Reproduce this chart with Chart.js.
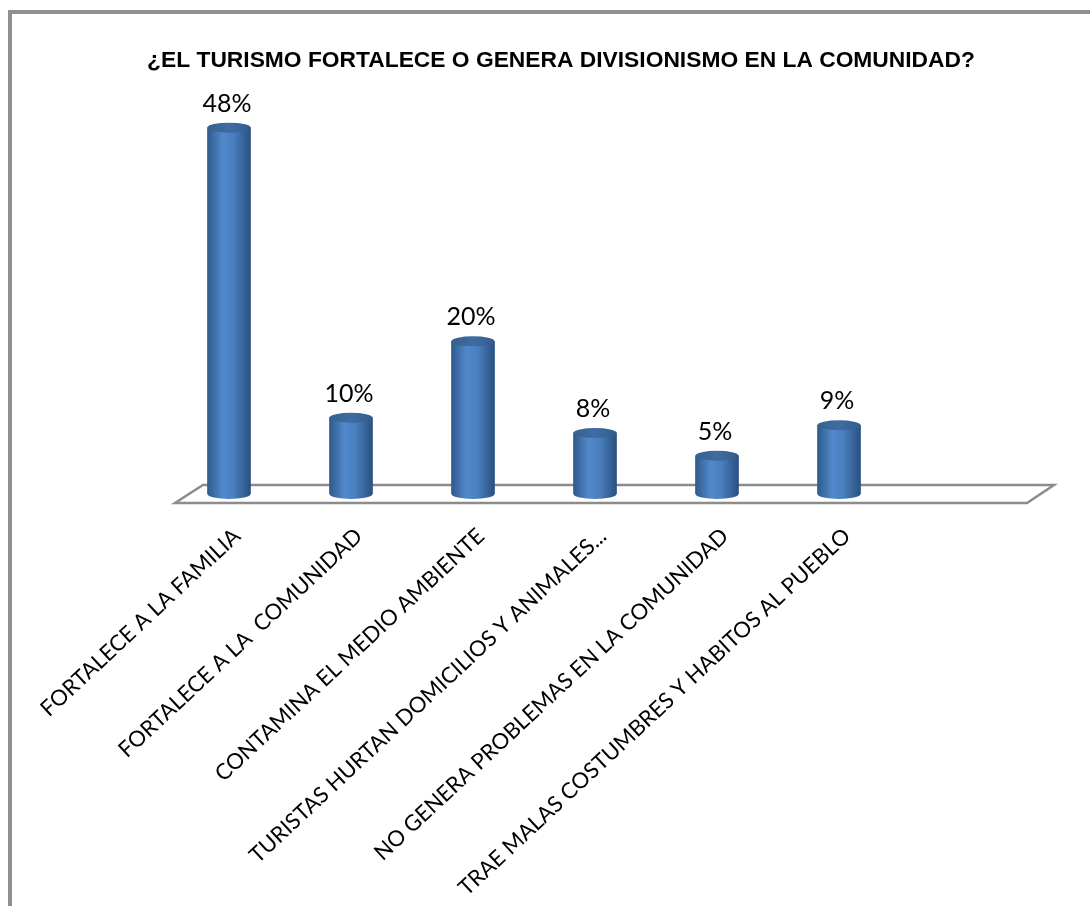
<!DOCTYPE html>
<html>
<head>
  <meta charset="UTF-8">
  <title>¿El turismo fortalece o genera divisionismo?</title>
  <style>
    body {
      margin: 0;
      background-color: #fff;
      overflow: hidden;
    }

    /* marco gris del gráfico (solo izquierda y arriba se ven) */
    .marco {
      position: absolute;
      left: 8px;
      top: 10px;
      width: 1200px;
      height: 1000px;
      border-left: 4px solid #8f8f8f;
      border-top: 4px solid #8f8f8f;
    }

    .contenedor {
      position: absolute;
      left: 0;
      top: 0;
      width: 1090px;
      height: 906px;
    }
  </style>
</head>
<body>
  <div class="marco"></div>
  <div class="contenedor">
    <canvas id="grafica"></canvas>
  </div>

  <script src="https://cdn.jsdelivr.net/npm/chart.js"></script>
  <script>
    var titulo = '¿EL TURISMO FORTALECE O GENERA DIVISIONISMO EN LA COMUNIDAD?';

    var categorias = [
      'FORTALECE A LA FAMILIA',
      'FORTALECE A LA  COMUNIDAD',
      'CONTAMINA EL MEDIO AMBIENTE',
      'TURISTAS HURTAN DOMICILIOS Y ANIMALES...',
      'NO GENERA PROBLEMAS EN LA COMUNIDAD',
      'TRAE MALAS COSTUMBRES Y HABITOS AL PUEBLO'
    ];

    var porcentajes = [48, 10, 20, 8, 5, 9];

    // degradado horizontal para simular el cilindro
    function degradado(ctx, x, w) {
      var g = ctx.createLinearGradient(x - w / 2, 0, x + w / 2, 0);
      g.addColorStop(0, '#2f5a8c');
      g.addColorStop(0.35, '#5289cc');
      g.addColorStop(0.6, '#4a7fbf');
      g.addColorStop(1, '#2a5080');
      return g;
    }

    // piso en perspectiva
    var piso = {
      id: 'piso',
      beforeDatasetsDraw: function (chart) {
        var ctx = chart.ctx;
        var x = chart.scales.x;
        var y = chart.scales.y;
        var x0 = x.getPixelForValue(0);
        var x5 = x.getPixelForValue(categorias.length - 1);
        var base = y.getPixelForValue(0);
        ctx.save();
        ctx.beginPath();
        ctx.moveTo(x0 - 26, base - 9);
        ctx.lineTo(x5 + 215, base - 9);
        ctx.lineTo(x5 + 188, base + 9);
        ctx.lineTo(x0 - 54, base + 9);
        ctx.closePath();
        ctx.fillStyle = '#fff';
        ctx.fill();
        ctx.lineWidth = 2.5;
        ctx.strokeStyle = '#8c8c8c';
        ctx.stroke();
        ctx.restore();
      }
    };

    // tapas de los cilindros
    var cilindros = {
      id: 'cilindros',
      afterDatasetsDraw: function (chart) {
        var ctx = chart.ctx;
        var meta = chart.getDatasetMeta(0);
        ctx.save();
        meta.data.forEach(function (bar) {
          var rx = bar.width / 2;
          ctx.beginPath();
          ctx.ellipse(bar.x, bar.base, rx, 5, 0, 0, Math.PI);
          ctx.fillStyle = degradado(ctx, bar.x, bar.width);
          ctx.fill();

          ctx.beginPath();
          ctx.ellipse(bar.x, bar.y, rx, 5, 0, 0, Math.PI * 2);
          var g = ctx.createLinearGradient(bar.x - rx, 0, bar.x + rx, 0);
          g.addColorStop(0, '#35618f');
          g.addColorStop(0.5, '#3f6ca2');
          g.addColorStop(1, '#325c8c');
          ctx.fillStyle = g;
          ctx.fill();
        });
        ctx.restore();
      }
    };

    // porcentajes encima de cada barra
    var etiquetasValor = {
      id: 'etiquetasValor',
      afterDatasetsDraw: function (chart) {
        var ctx = chart.ctx;
        var meta = chart.getDatasetMeta(0);
        ctx.save();
        ctx.font = '25px Lato';
        ctx.fillStyle = '#000';
        ctx.textAlign = 'center';
        ctx.textBaseline = 'middle';
        meta.data.forEach(function (bar, i) {
          ctx.fillText(porcentajes[i] + '%', bar.x - 2, bar.y - 24);
        });
        ctx.restore();
      }
    };

    var ctx = document.getElementById('grafica').getContext('2d');

    var myChart = new Chart(ctx, {
      type: 'bar',
      data: {
        labels: categorias,
        datasets: [{
          data: porcentajes,
          barThickness: 43,
          backgroundColor: function (c) {
            var x = c.chart.scales.x;
            if (!x || !c.chart.chartArea) return '#4a7fbf';
            return degradado(c.chart.ctx, x.getPixelForValue(c.dataIndex), 43);
          },
          borderWidth: 0
        }]
      },
      options: {
        responsive: true,
        maintainAspectRatio: false,
        animation: false,
        layout: {
          padding: { left: 32, right: 0, top: 47, bottom: 0 }
        },
        plugins: {
          legend: { display: false },
          tooltip: { enabled: false },
          title: {
            display: true,
            text: titulo,
            color: '#000',
            font: { family: 'Liberation Sans', size: 22.8, weight: 'bold' },
            padding: { top: 0, bottom: 38 }
          }
        },
        scales: {
          x: {
            grid: { display: false },
            border: { display: false },
            ticks: {
              color: '#000',
              font: { family: 'Lato', size: 22 },
              minRotation: 43,
              maxRotation: 43,
              autoSkip: false,
              padding: 21,
              labelOffset: 8
            },
            afterFit: function (s) { s.height = 412; }
          },
          y: {
            min: 0,
            max: 50,
            grid: { display: false },
            border: { display: false },
            ticks: { display: false },
            afterFit: function (s) { s.width = 136; }
          },
          derecha: {
            type: 'linear',
            position: 'right',
            grid: { display: false },
            border: { display: false },
            ticks: { display: false },
            afterFit: function (s) { s.width = 190; }
          }
        }
      },
      plugins: [piso, cilindros, etiquetasValor]
    });
  </script>
</body>
</html>
